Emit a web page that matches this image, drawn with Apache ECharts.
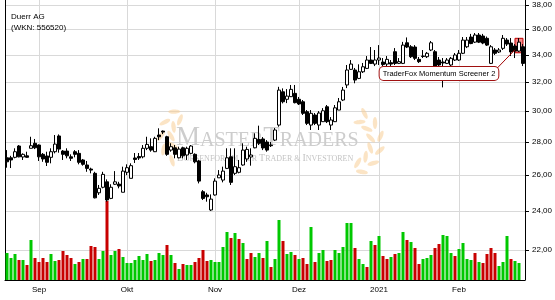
<!DOCTYPE html>
<html><head><meta charset="utf-8">
<script src="https://cdn.jsdelivr.net/npm/echarts@6/dist/echarts.min.js"></script>
<style>html,body{margin:0;padding:0;background:#fff}#c{width:555px;height:300px}</style>
</head><body><div id="c"></div>
<script>
const dates = [
'2020-08-20','2020-08-21','2020-08-24','2020-08-25','2020-08-26','2020-08-27','2020-08-28','2020-08-31',
'2020-09-01','2020-09-02','2020-09-03','2020-09-04','2020-09-07','2020-09-08','2020-09-09','2020-09-10','2020-09-11',
'2020-09-14','2020-09-15','2020-09-16','2020-09-17','2020-09-18','2020-09-21','2020-09-22','2020-09-23','2020-09-24','2020-09-25',
'2020-09-28','2020-09-29','2020-09-30',
'2020-10-01','2020-10-02','2020-10-05','2020-10-06','2020-10-07','2020-10-08','2020-10-09','2020-10-12','2020-10-13','2020-10-14',
'2020-10-15','2020-10-16','2020-10-19','2020-10-20','2020-10-21','2020-10-22','2020-10-23','2020-10-26','2020-10-27','2020-10-28',
'2020-10-29','2020-10-30',
'2020-11-02','2020-11-03','2020-11-04','2020-11-05','2020-11-06','2020-11-09','2020-11-10','2020-11-11','2020-11-12','2020-11-13',
'2020-11-16','2020-11-17','2020-11-18','2020-11-19','2020-11-20','2020-11-23','2020-11-24','2020-11-25','2020-11-26','2020-11-27',
'2020-11-30',
'2020-12-01','2020-12-02','2020-12-03','2020-12-04','2020-12-07','2020-12-08','2020-12-09','2020-12-10','2020-12-11','2020-12-14',
'2020-12-15','2020-12-16','2020-12-17','2020-12-18','2020-12-21','2020-12-22','2020-12-23','2020-12-28','2020-12-29','2020-12-30',
'2021-01-04','2021-01-05','2021-01-06','2021-01-07','2021-01-08','2021-01-11','2021-01-12','2021-01-13','2021-01-14','2021-01-15',
'2021-01-18','2021-01-19','2021-01-20','2021-01-21','2021-01-22','2021-01-25','2021-01-26','2021-01-27','2021-01-28','2021-01-29',
'2021-02-01','2021-02-02','2021-02-03','2021-02-04','2021-02-05','2021-02-08','2021-02-09','2021-02-10','2021-02-11','2021-02-12',
'2021-02-15','2021-02-16','2021-02-17','2021-02-18','2021-02-19','2021-02-22','2021-02-23'
];
const opens = [27.02,27.02,27.05,27.74,27.07,27.14,27.60,27.91,27.80,27.23,
27.13,27.05,27.39,28.37,27.43,27.43,27.08,27.39,27.29,26.89,
26.59,26.35,26.10,24.99,25.30,25.61,24.68,25.47,25.48,25.02,
26.16,25.81,27.01,27.10,27.08,27.60,27.70,27.39,28.43,28.68,
28.32,27.49,27.63,27.02,27.63,27.19,27.29,27.23,26.83,25.05,
24.87,24.05,24.87,25.84,25.71,26.39,27.08,26.10,26.16,26.59,
26.95,27.07,27.63,28.15,28.18,27.99,27.80,28.11,29.07,31.31,
30.79,30.97,31.20,30.79,30.62,29.95,29.07,29.73,29.07,29.29,
30.28,29.07,29.29,30.06,30.74,31.79,32.92,32.87,32.26,32.74,
32.99,33.61,33.31,33.61,33.46,33.31,33.41,34.24,33.36,33.36,
34.93,34.62,34.60,33.66,33.91,33.86,34.37,34.24,33.61,33.46,
33.36,33.24,33.61,33.61,34.12,34.62,35.38,34.98,35.54,35.46,
35.28,33.36,34.37,34.22,34.50,35.14,34.91,34.68,34.29,34.62];
const closes = [26.78,26.89,27.39,27.08,27.23,27.05,27.76,27.63,27.08,26.95,
26.75,27.39,27.86,27.55,27.23,27.14,26.99,27.23,26.75,26.63,
26.39,26.29,24.71,25.24,26.04,24.59,25.30,25.61,25.37,26.23,
26.43,26.55,26.92,27.01,27.60,27.84,27.49,28.22,28.32,28.62,
27.23,27.70,27.23,27.55,27.14,27.60,27.74,26.78,25.65,24.68,
24.77,24.64,25.65,26.00,26.23,27.02,25.58,26.49,26.43,27.49,
27.53,27.19,28.22,27.91,27.62,27.49,27.76,28.75,31.43,30.62,
31.01,31.48,30.56,30.47,29.84,29.18,29.84,29.18,29.86,30.01,
29.29,29.40,30.21,30.62,31.43,32.87,33.31,32.14,32.74,33.11,
33.61,33.36,33.61,33.76,33.27,33.66,33.31,33.36,33.49,34.75,
34.60,33.86,33.74,33.49,33.88,34.12,34.93,33.16,33.24,33.39,
33.61,33.74,33.99,34.12,35.14,35.14,34.87,35.54,34.98,34.91,
34.75,34.62,34.12,34.37,35.28,34.83,34.22,34.29,34.98,33.36];
const lows = [26.43,26.41,26.99,27.05,26.89,27.02,27.60,27.55,26.83,26.78,
26.53,26.69,27.29,27.33,26.89,26.99,26.83,27.05,26.63,26.55,
26.19,26.10,24.68,24.87,25.24,24.50,24.64,25.43,25.24,25.02,
26.00,25.81,26.71,26.89,26.99,27.49,27.39,27.37,28.11,28.49,
27.14,27.39,26.99,26.99,26.99,26.89,27.23,26.69,25.52,24.59,
24.50,24.00,24.83,25.84,25.58,26.35,25.43,26.00,26.10,26.55,
26.78,26.55,27.60,27.80,27.49,27.39,27.68,28.05,28.96,30.51,
30.53,30.95,30.51,30.40,29.73,29.07,28.75,29.07,28.75,29.27,
29.20,28.75,29.27,30.06,30.67,31.57,32.87,31.91,32.21,32.65,
32.94,33.31,33.16,33.24,33.16,33.16,33.16,33.24,33.31,33.31,
34.52,33.76,33.61,33.39,33.76,33.76,34.29,33.09,33.02,31.62,
33.31,33.16,33.54,33.54,34.06,34.52,34.82,34.91,34.91,34.82,
34.68,33.31,33.99,34.14,34.37,34.68,33.91,33.76,34.22,33.16];
const highs = [27.49,27.14,27.60,27.80,27.29,27.39,28.32,28.18,27.84,27.31,
27.39,27.60,28.43,28.47,27.49,27.60,27.23,27.49,27.49,26.95,
26.83,26.43,26.19,25.43,26.19,25.75,25.47,26.23,25.61,26.49,
26.63,26.69,27.31,27.31,27.80,28.32,28.22,28.32,28.86,28.72,
28.38,27.91,27.80,27.70,27.70,27.70,27.80,27.29,26.89,25.14,
24.99,24.90,25.81,26.29,26.49,27.60,27.60,27.60,26.89,27.91,
27.70,27.60,28.54,29.03,28.30,28.11,27.99,28.88,31.66,31.55,
31.50,31.79,31.79,30.95,30.74,30.06,30.06,29.86,29.99,30.19,
30.40,29.59,30.40,30.88,31.65,33.24,33.61,33.02,33.29,33.39,
33.91,34.60,34.37,34.75,33.76,33.91,33.61,34.52,33.76,35.00,
35.35,34.75,34.75,33.84,34.37,34.22,35.07,34.37,33.84,33.76,
33.76,33.84,34.14,34.37,35.38,35.38,35.63,35.70,35.70,35.63,
35.42,34.75,34.52,34.52,35.54,35.30,35.30,34.83,35.30,34.83];
const volumes = [27,22,26,20,20,15,40,22,18,22,
18,26,19,20,29,25,22,16,18,21,
21,34,33,21,29,79,25,29,31,23,
17,17,20,24,20,26,19,20,27,25,
35,25,17,11,16,15,15,18,22,30,
19,20,18,18,33,48,42,47,41,37,
21,27,23,27,22,39,13,21,60,39,
26,28,25,21,22,16,53,18,27,30,
19,20,30,27,33,57,57,32,21,16,
13,39,35,44,24,21,23,26,27,48,
40,38,32,16,21,22,25,32,36,45,
44,27,24,31,37,21,20,27,18,17,
26,32,27,14,18,44,21,19,17,0];
const volumeDirections = ('gggrgrgrrr' + 'rggrrrrgrg' + 'rrrggrggrg' + 'ggggggrggg' + 'rgrgrggrrr' +
  'rgggggrgrg' + 'rrggrgrggr' + 'ggrgrrgrgg' + 'rrgggggrgg' + 'rgrgrrgrgg' + 'rgrrgggrrg' +
  'ggrggggrgr' + 'rrrgggrggg').split('');
const tickDates = ['2020-09-01','2020-10-01','2020-11-02','2020-12-01','2021-01-04','2021-02-01'];
const tickLabels = ['Sep','Okt','Nov','Dez','2021','Feb'];
const priceTicks = [22,24,26,28,30,32,34,36,38];
const annotationText = 'TraderFox Momentum Screener 2';

const GREEN = '#00c800', RED = '#c80000', GRID = '#d9d9d9';
const isTick = (idx, val) => tickDates.indexOf(val !== undefined ? val : dates[idx]) >= 0;
const FONT = 'Liberation Sans';

const candleData = dates.map((d, i) => [opens[i], closes[i], lows[i], highs[i]]);

// decorative watermark laurels
const leaves = [];
function laurel(cx, cy, r, a0, a1, n) {
  for (let k = 0; k < n; k++) {
    const a = (a0 + (a1 - a0) * k / (n - 1)) * Math.PI / 180;
    for (const side of [-1, 1]) {
      const rr = r + side * 5;
      const x = cx + rr * Math.cos(a), y = cy + rr * Math.sin(a);
      leaves.push({type: 'ellipse', z: 1, silent: true, x: x, y: y,
        rotation: -(a + Math.PI / 2) - side * 0.6,
        shape: {cx: 0, cy: 0, rx: 6, ry: 2.2},
        style: {fill: 'rgba(247,205,150,0.55)'}});
    }
  }
}
laurel(192, 137, 26, 130, 235, 5);
laurel(348, 142, 28, -60, 65, 6);

const chart = echarts.init(document.getElementById('c'), null, {renderer: 'canvas'});
chart.setOption({
  animation: false,
  textStyle: {fontFamily: FONT},
  title: {text: 'Duerr AG\n(WKN: 556520)', left: 6, top: 6,
    textStyle: {fontSize: 8, fontWeight: 'normal', color: '#000', lineHeight: 11, fontFamily: FONT}},
  graphic: [
    {type: 'text', z: 1, silent: true, left: 176, top: 124,
      style: {text: '{b|M}{s|ASTER}{b|T}{s|RADERS}',
        rich: {b: {fontSize: 27, fontFamily: 'Liberation Serif', fill: '#cdcdcd', verticalAlign: 'bottom'},
               s: {fontSize: 20, fontFamily: 'Liberation Serif', fill: '#cdcdcd', verticalAlign: 'bottom'}}}},
    {type: 'text', z: 1, silent: true, left: 177, top: 153,
      style: {text: '{b|B}{s|ÖRSENFORUM }{b|F}{s|ÜR }{b|T}{s|RADER & }{b|I}{s|NVESTOREN}',
        rich: {b: {fontSize: 10, fontFamily: 'Liberation Serif', fill: '#c4c4c4', verticalAlign: 'bottom'},
               s: {fontSize: 8, fontFamily: 'Liberation Serif', fill: '#c4c4c4', verticalAlign: 'bottom'}}}}
  ].concat(leaves),
  grid: [
    {left: 5, right: 30, top: 0, bottom: 20},
    {left: 5, right: 30, top: 180, bottom: 20}
  ],
  xAxis: [
    {type: 'category', gridIndex: 0, data: dates, boundaryGap: true,
      axisLine: {lineStyle: {color: '#000', width: 1}},
      axisTick: {alignWithLabel: true, length: 3, interval: isTick, lineStyle: {color: '#000'}},
      axisLabel: {interval: isTick, formatter: v => tickLabels[tickDates.indexOf(v)] || '',
        fontSize: 8, color: '#000', margin: 6, fontFamily: FONT},
      splitLine: {show: true, interval: isTick, alignWithLabel: true, lineStyle: {color: GRID, width: 1}}},
    {type: 'category', gridIndex: 1, data: dates, boundaryGap: true, show: false}
  ],
  yAxis: [
    {type: 'log', gridIndex: 0, position: 'right', min: 20.57, max: 38.43, logBase: 10,
      axisLine: {show: true, lineStyle: {color: '#000'}},
      axisTick: {show: true, length: 4, customValues: priceTicks, lineStyle: {color: '#000'}},
      axisLabel: {customValues: priceTicks, formatter: v => Number(v).toFixed(2).replace('.', ','),
        fontSize: 8, color: '#000', margin: 7, fontFamily: FONT},
      splitLine: {show: true, lineStyle: {color: GRID, width: 1}}},
    {type: 'value', gridIndex: 0, position: 'left', min: 0, max: 1,
      axisLine: {show: true, onZero: false, lineStyle: {color: '#000'}},
      axisTick: {show: false}, axisLabel: {show: false}, splitLine: {show: false}},
    {type: 'value', gridIndex: 1, min: 0, max: 100, show: false, splitLine: {show: false}}
  ],
  series: [
    {type: 'bar', xAxisIndex: 1, yAxisIndex: 2, barWidth: 3, z: 2,
      data: volumes.map((v, i) => ({value: v, itemStyle: {color: volumeDirections[i] === 'g' ? GREEN : RED}}))},
    {type: 'candlestick', xAxisIndex: 0, yAxisIndex: 0, barWidth: 3, z: 3,
      data: candleData,
      itemStyle: {color: '#fff', color0: '#000', borderColor: '#000', borderColor0: '#000', borderWidth: 1},
      markArea: {silent: true,
        itemStyle: {color: 'rgba(238,70,70,0.65)', borderColor: '#c00000', borderWidth: 1},
        data: [[{xAxis: dates[127], yAxis: 34.16}, {xAxis: dates[129], yAxis: 35.28}]]},
      markLine: {silent: true, symbol: ['none', 'none'], label: {show: false},
        lineStyle: {color: '#a00000', width: 1, type: 'solid'},
        data: [[{coord: [dates[122], 32.84]}, {coord: [dates[127], 34.39]}]]},
      markPoint: {silent: true, symbol: 'rect', symbolSize: 1, itemStyle: {color: 'rgba(0,0,0,0)'},
        label: {show: true, position: 'inside', formatter: annotationText, fontSize: 7.5, color: '#000',
          fontFamily: FONT, backgroundColor: '#fff', borderColor: '#a01010', borderWidth: 1,
          borderRadius: 4, padding: [3, 3, 2, 3]},
        data: [{coord: [dates[108], 32.61]}]}
    }
  ]
});
</script>
</body></html>
